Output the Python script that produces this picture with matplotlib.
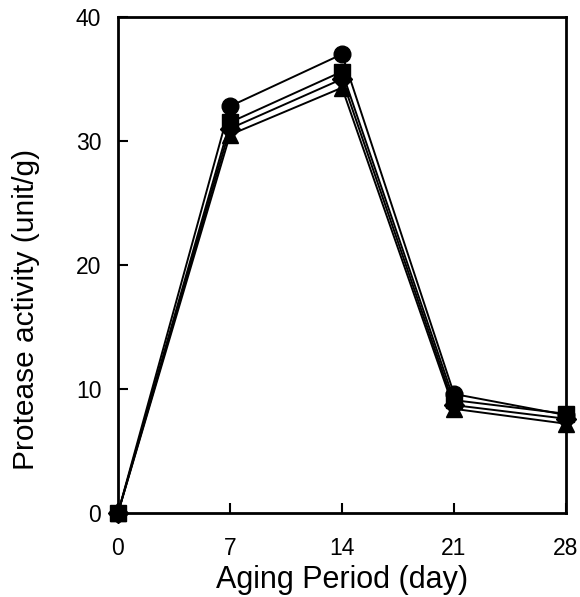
import matplotlib
matplotlib.use("Agg")
import matplotlib.pyplot as plt

plt.rcParams["font.family"] = ["Liberation Sans", "DejaVu Sans"]

days = [0, 7, 14, 21, 28]
series_circle = [0, 32.8, 37.0, 9.6, 7.9]
series_square = [0, 31.5, 35.6, 9.1, 8.0]
series_diamond = [0, 31.0, 35.0, 8.7, 7.6]
series_triangle = [0, 30.5, 34.3, 8.4, 7.2]

SERIES = [
    (series_triangle, "^"),
    (series_diamond, "D"),
    (series_circle, "o"),
    (series_square, "s"),
]


def main() -> None:
    fig = plt.figure(figsize=[5.8, 5.97], dpi=100)
    ax = fig.add_axes([0.2034, 0.1407, 0.7725, 0.8308])

    for values, marker in SERIES:
        ms = 10 if marker == "D" else 12
        ax.plot(days, values, color="black", lw=1.4, marker=marker,
                markersize=ms, markerfacecolor="black", clip_on=False, zorder=3)

    ax.set_xlim(0, 28)
    ax.set_ylim(0, 40)
    ax.set_xticks(days)
    ax.set_yticks([0, 10, 20, 30, 40])
    ax.tick_params(direction="in", length=7, width=1.5, labelsize=16.5, pad=12)
    ax.tick_params(axis="x", pad=17)
    for side in ax.spines.values():
        side.set_linewidth(2)

    ax.set_xlabel("Aging Period (day)", fontsize=22, labelpad=4)
    ax.set_ylabel("Protease activity (unit/g)", fontsize=21.5)
    ax.yaxis.set_label_coords(-0.175, 0.41)

    fig.savefig("out.png", dpi=100)


if __name__ == "__main__":
    main()
